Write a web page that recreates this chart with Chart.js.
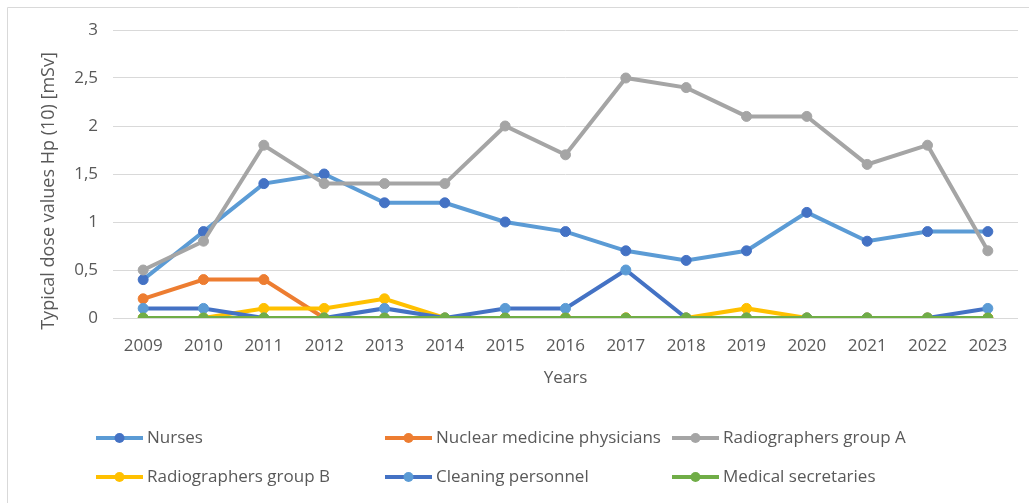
<!DOCTYPE html>
<html>
<head>
<meta charset="utf-8">
<title>Typical dose values</title>
<script src="https://cdn.jsdelivr.net/npm/chart.js@4"></script>
<style>
  body { margin: 0; background: #ffffff; }
  #wrap { width: 1029px; height: 503px; position: relative; }
</style>
</head>
<body>
<div id="wrap"><canvas id="dose-chart" width="1029" height="503"></canvas></div>
<script>
"use strict";

// Data

let years = ["2009", "2010", "2011", "2012", "2013", "2014", "2015", "2016", "2017", "2018", "2019", "2020", "2021", "2022", "2023"];
let yTicks = [0, 0.5, 1, 1.5, 2, 2.5, 3];

let nurses = [0.4, 0.9, 1.4, 1.5, 1.2, 1.2, 1.0, 0.9, 0.7, 0.6, 0.7, 1.1, 0.8, 0.9, 0.9];
let nuclearPhysicians = [0.2, 0.4, 0.4, 0, 0, 0, 0, 0, 0, 0, 0, 0, 0, 0, 0];
let radiographersA = [0.5, 0.8, 1.8, 1.4, 1.4, 1.4, 2.0, 1.7, 2.5, 2.4, 2.1, 2.1, 1.6, 1.8, 0.7];
let radiographersB = [0, 0, 0.1, 0.1, 0.2, 0, 0, 0, 0, 0, 0.1, 0, 0, 0, 0];
let cleaningPersonnel = [0.1, 0.1, 0, 0, 0.1, 0, 0.1, 0.1, 0.5, 0, 0, 0, 0, 0, 0.1];
let medicalSecretaries = [0, 0, 0, 0, 0, 0, 0, 0, 0, 0, 0, 0, 0, 0, 0];

let textColor = "#595959";
let gridColor = "#d9d9d9";
let fontFamily = "'Open Sans', 'Noto Sans', sans-serif";

function makeSeries(label, data, lineColor, pointColor, order) {
  return {
    label: label,
    data: data,
    borderColor: lineColor,
    backgroundColor: pointColor,
    pointBackgroundColor: pointColor,
    pointBorderColor: pointColor,
    borderWidth: 4,
    pointRadius: 5,
    pointBorderWidth: 1,
    tension: 0,
    order: order,
  };
}

let datasets = [
  makeSeries("Nurses", nurses, "#5b9bd5", "#4472c4", 6),
  makeSeries("Nuclear medicine physicians", nuclearPhysicians, "#ed7d31", "#ed7d31", 5),
  makeSeries("Radiographers group A", radiographersA, "#a5a5a5", "#a5a5a5", 4),
  makeSeries("Radiographers group B", radiographersB, "#ffc000", "#ffc000", 3),
  makeSeries("Cleaning personnel", cleaningPersonnel, "#4472c4", "#5b9bd5", 2),
  makeSeries("Medical secretaries", medicalSecretaries, "#70ad47", "#70ad47", 1),
];

// Frame, axis titles and legend drawn by hand to sit like the original

let decorPlugin = {
  id: "decor",
  beforeDraw(chart) {
    let ctx = chart.ctx;
    ctx.save();
    ctx.strokeStyle = gridColor;
    ctx.lineWidth = 1;
    ctx.beginPath();
    ctx.moveTo(7.5, 503);
    ctx.lineTo(7.5, 7.5);
    ctx.lineTo(1029, 7.5);
    ctx.stroke();
    ctx.restore();
  },
  afterDraw(chart) {
    let ctx = chart.ctx;
    let area = chart.chartArea;
    ctx.save();
    ctx.fillStyle = textColor;
    ctx.textBaseline = "middle";

    // y title
    ctx.save();
    ctx.translate(49, 191);
    ctx.rotate(-Math.PI / 2);
    ctx.textAlign = "center";
    ctx.font = "18px " + fontFamily;
    ctx.fillText("Typical dose values Hp (10) [mSv]", 0, 0);
    ctx.restore();

    // x title
    ctx.textAlign = "center";
    ctx.font = "17px " + fontFamily;
    ctx.fillText("Years", (area.left + area.right) / 2, 378);

    // legend
    let columns = [96, 385, 672];
    let rows = [438, 477];
    ctx.textAlign = "left";
    ctx.font = "17px " + fontFamily;
    chart.data.datasets.forEach(function (ds, i) {
      let x = columns[i % 3];
      let y = rows[Math.floor(i / 3)];
      ctx.strokeStyle = ds.borderColor;
      ctx.lineWidth = 4;
      ctx.beginPath();
      ctx.moveTo(x, y);
      ctx.lineTo(x + 47, y);
      ctx.stroke();
      ctx.fillStyle = ds.pointBackgroundColor;
      ctx.beginPath();
      ctx.arc(x + 23.5, y, 5, 0, Math.PI * 2);
      ctx.fill();
      ctx.fillStyle = textColor;
      ctx.fillText(ds.label, x + 51, y);
    });
    ctx.restore();
  },
};

let ctx = document.getElementById("dose-chart").getContext("2d");

let doseChart = new Chart(ctx, {
  type: "line",
  data: {
    labels: years,
    datasets: datasets,
  },
  options: {
    responsive: false,
    animation: false,
    layout: {
      padding: { left: 0, top: 30, right: 11, bottom: 0 },
    },
    plugins: {
      legend: { display: false },
      tooltip: { enabled: false },
    },
    scales: {
      x: {
        offset: true,
        grid: { display: false, drawTicks: false },
        border: { display: false },
        ticks: {
          color: textColor,
          font: { family: fontFamily, size: 17 },
          padding: 18,
          maxRotation: 0,
          autoSkip: false,
        },
        afterFit(scale) {
          scale.height = 185;
        },
      },
      y: {
        min: 0,
        max: 3,
        grid: { color: gridColor, lineWidth: 1, drawTicks: false },
        border: { display: false },
        afterBuildTicks(scale) {
          scale.ticks = yTicks.map(function (v) { return { value: v }; });
        },
        ticks: {
          color: textColor,
          font: { family: fontFamily, size: 17 },
          padding: 15,
          callback: function (value) {
            return String(value).replace(".", ",");
          },
        },
        afterFit(scale) {
          scale.width = 113;
        },
      },
    },
  },
  plugins: [decorPlugin],
});
</script>
</body>
</html>
